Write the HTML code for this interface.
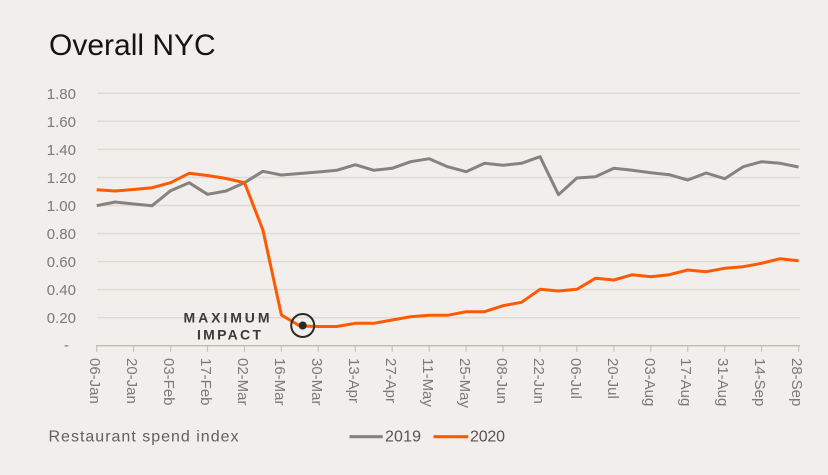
<!DOCTYPE html>
<html><head><meta charset="utf-8"><style>
html,body{margin:0;padding:0;background:#f2eeeb;}
svg{display:block;}
text{font-family:"Liberation Sans",sans-serif;}
</style></head><body>
<svg width="828" height="475" viewBox="0 0 828 475" xmlns="http://www.w3.org/2000/svg">
<rect width="828" height="475" fill="#f2eeeb"/>
<text x="49" y="55" font-size="30" fill="#141414">Overall NYC</text>
<g stroke="#dedad6" stroke-width="1.4">
<line x1="97" y1="93.3" x2="800" y2="93.3"/>
<line x1="97" y1="121.3" x2="800" y2="121.3"/>
<line x1="97" y1="149.4" x2="800" y2="149.4"/>
<line x1="97" y1="177.5" x2="800" y2="177.5"/>
<line x1="97" y1="205.5" x2="800" y2="205.5"/>
<line x1="97" y1="233.5" x2="800" y2="233.5"/>
<line x1="97" y1="261.6" x2="800" y2="261.6"/>
<line x1="97" y1="289.6" x2="800" y2="289.6"/>
<line x1="97" y1="317.7" x2="800" y2="317.7"/>
</g>
<line x1="96" y1="345.7" x2="800" y2="345.7" stroke="#bfbcb8" stroke-width="1.4"/>
<g stroke="#c6c2be" stroke-width="1.2">
<line x1="96.7" y1="345.7" x2="96.7" y2="351.7"/><line x1="133.6" y1="345.7" x2="133.6" y2="351.7"/><line x1="170.6" y1="345.7" x2="170.6" y2="351.7"/><line x1="207.5" y1="345.7" x2="207.5" y2="351.7"/><line x1="244.5" y1="345.7" x2="244.5" y2="351.7"/><line x1="281.4" y1="345.7" x2="281.4" y2="351.7"/><line x1="318.3" y1="345.7" x2="318.3" y2="351.7"/><line x1="355.3" y1="345.7" x2="355.3" y2="351.7"/><line x1="392.2" y1="345.7" x2="392.2" y2="351.7"/><line x1="429.2" y1="345.7" x2="429.2" y2="351.7"/><line x1="466.1" y1="345.7" x2="466.1" y2="351.7"/><line x1="503" y1="345.7" x2="503" y2="351.7"/><line x1="540" y1="345.7" x2="540" y2="351.7"/><line x1="576.9" y1="345.7" x2="576.9" y2="351.7"/><line x1="613.9" y1="345.7" x2="613.9" y2="351.7"/><line x1="650.8" y1="345.7" x2="650.8" y2="351.7"/><line x1="687.7" y1="345.7" x2="687.7" y2="351.7"/><line x1="724.7" y1="345.7" x2="724.7" y2="351.7"/><line x1="761.6" y1="345.7" x2="761.6" y2="351.7"/><line x1="798.6" y1="345.7" x2="798.6" y2="351.7"/>
</g>
<g font-size="15" fill="#7a7a7a" text-anchor="end">
<text x="76" y="99">1.80</text>
<text x="76" y="127">1.60</text>
<text x="76" y="155">1.40</text>
<text x="76" y="183">1.20</text>
<text x="76" y="211">1.00</text>
<text x="76" y="239">0.80</text>
<text x="76" y="267">0.60</text>
<text x="76" y="295">0.40</text>
<text x="76" y="323">0.20</text>
</g>
<text x="64" y="350" font-size="15" fill="#7a7a7a">-</text>
<g font-size="15" fill="#7a7a7a">
<text transform="translate(90,358) rotate(90)">06-Jan</text>
<text transform="translate(127,358) rotate(90)">20-Jan</text>
<text transform="translate(164,358) rotate(90)">03-Feb</text>
<text transform="translate(201,358) rotate(90)">17-Feb</text>
<text transform="translate(238,358) rotate(90)">02-Mar</text>
<text transform="translate(275,358) rotate(90)">16-Mar</text>
<text transform="translate(312,358) rotate(90)">30-Mar</text>
<text transform="translate(349,358) rotate(90)">13-Apr</text>
<text transform="translate(386,358) rotate(90)">27-Apr</text>
<text transform="translate(423,358) rotate(90)">11-May</text>
<text transform="translate(460,358) rotate(90)">25-May</text>
<text transform="translate(497,358) rotate(90)">08-Jun</text>
<text transform="translate(534,358) rotate(90)">22-Jun</text>
<text transform="translate(571,358) rotate(90)">06-Jul</text>
<text transform="translate(608,358) rotate(90)">20-Jul</text>
<text transform="translate(645,358) rotate(90)">03-Aug</text>
<text transform="translate(681,358) rotate(90)">17-Aug</text>
<text transform="translate(718,358) rotate(90)">31-Aug</text>
<text transform="translate(755,358) rotate(90)">14-Sep</text>
<text transform="translate(792,358) rotate(90)">28-Sep</text>
</g>
<polyline fill="none" stroke="#84837f" stroke-width="3" stroke-linejoin="round" points="96.7,205.7 115.2,202 133.6,204 152.1,205.7 170.6,190.7 189.1,182.7 207.5,194.3 226,191 244.5,182.7 262.9,171.3 281.4,175 299.9,173.5 318.3,172 336.8,170.3 355.3,164.7 373.8,170.3 392.2,168.3 410.7,161.7 429.2,158.7 447.6,166.7 466.1,171.7 484.6,163.3 503,165.3 521.5,163.3 540,156.7 558.5,194.7 576.9,178 595.4,176.7 613.9,168.3 632.3,170.3 650.8,172.7 669.3,174.7 687.7,180 706.2,173 724.7,178.7 743.2,166.7 761.6,161.7 780.1,163.3 798.6,167"/>
<polyline fill="none" stroke="#ff5a00" stroke-width="3" stroke-linejoin="round" points="96.7,189.7 115.2,191 133.6,189.5 152.1,187.7 170.6,182.7 189.1,173.3 207.5,175.5 226,178.5 244.5,182.7 262.9,230 281.4,315 299.9,326 318.3,326.5 336.8,326.5 355.3,323.3 373.8,323.3 392.2,320 410.7,316.7 429.2,315.3 447.6,315.3 466.1,311.7 484.6,311.7 503,305.7 521.5,302.3 540,289.3 558.5,291 576.9,289.3 595.4,278.3 613.9,280 632.3,274.7 650.8,276.7 669.3,274.7 687.7,270 706.2,271.7 724.7,268.3 743.2,266.7 761.6,263.3 780.1,258.7 798.6,260.7"/>
<circle cx="302.7" cy="325.5" r="11.5" fill="none" stroke="#2a2a2a" stroke-width="2"/>
<circle cx="302.7" cy="325.5" r="4" fill="#2a2a2a"/>
<text x="183.5" y="322.7" font-size="14" font-weight="bold" fill="#3a3a3a" textLength="86" lengthAdjust="spacing">MAXIMUM</text>
<text x="197" y="339.5" font-size="14" font-weight="bold" fill="#3a3a3a" textLength="64" lengthAdjust="spacing">IMPACT</text>
<text x="48.5" y="441.5" font-size="16" fill="#606060" textLength="190" lengthAdjust="spacing">Restaurant spend index</text>
<line x1="349.5" y1="436.7" x2="382.7" y2="436.7" stroke="#84837f" stroke-width="3.2"/>
<text x="385" y="441.5" font-size="16" fill="#555" textLength="36" lengthAdjust="spacing">2019</text>
<line x1="433.5" y1="436.7" x2="468.3" y2="436.7" stroke="#ff5a00" stroke-width="3.2"/>
<text x="470" y="441.5" font-size="16" fill="#555" textLength="35" lengthAdjust="spacing">2020</text>
</svg>
</body></html>
